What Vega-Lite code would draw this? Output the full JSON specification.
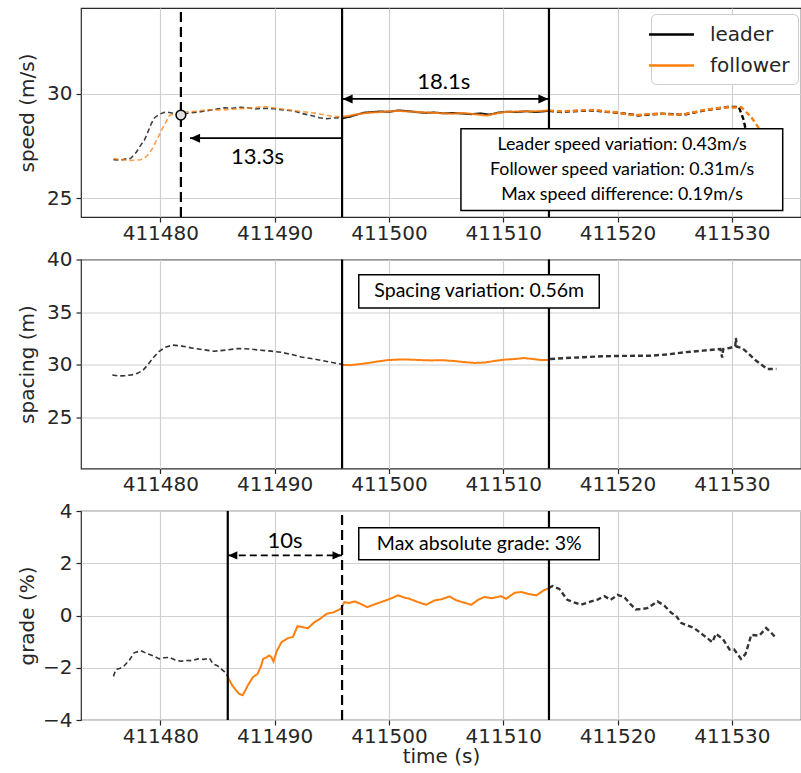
{
  "$schema": "https://vega.github.io/schema/vega-lite/v6.json",
  "padding": {"left": 16, "top": 6, "right": 0, "bottom": 4},
  "config": {
    "font": "DejaVu Sans",
    "view": {"stroke": "#2b2b2b", "strokeWidth": 1.2},
    "axis": {
      "labelFont": "DejaVu Sans", "labelFontSize": 20, "labelColor": "#262626",
      "titleFont": "DejaVu Sans", "titleFontSize": 20, "titleFontWeight": "normal", "titleColor": "#262626",
      "domain": false, "tickColor": "#262626", "tickSize": 5, "tickWidth": 1.2,
      "gridColor": "#d0d0d0", "gridWidth": 1.2, "grid": true
    },
    "axisX": {"labelPadding": 1, "labelFlush": false, "labelOverlap": false},
    "axisY": {"labelPadding": 4, "titleX": -54, "titleBaseline": "middle"}
  },
  "spacing": 42.5,
  "bounds": "flush",
  "resolve": {"legend": {"color": "independent"}},
  "datasets": {
    "speed": [
      {"t": 411475.9, "v": 26.84, "who": "leader", "seg": "before"},
      {"t": 411476.5, "v": 26.82, "who": "leader", "seg": "before"},
      {"t": 411477.0, "v": 26.88, "who": "leader", "seg": "before"},
      {"t": 411477.4, "v": 26.9, "who": "leader", "seg": "before"},
      {"t": 411477.9, "v": 27.2, "who": "leader", "seg": "before"},
      {"t": 411478.3, "v": 27.55, "who": "leader", "seg": "before"},
      {"t": 411478.6, "v": 27.77, "who": "leader", "seg": "before"},
      {"t": 411478.9, "v": 28.15, "who": "leader", "seg": "before"},
      {"t": 411479.2, "v": 28.56, "who": "leader", "seg": "before"},
      {"t": 411479.5, "v": 28.85, "who": "leader", "seg": "before"},
      {"t": 411479.9, "v": 29.01, "who": "leader", "seg": "before"},
      {"t": 411480.3, "v": 29.1, "who": "leader", "seg": "before"},
      {"t": 411480.6, "v": 29.12, "who": "leader", "seg": "before"},
      {"t": 411481.0, "v": 29.08, "who": "leader", "seg": "before"},
      {"t": 411481.5, "v": 29.0, "who": "leader", "seg": "before"},
      {"t": 411482.0, "v": 29.02, "who": "leader", "seg": "before"},
      {"t": 411482.5, "v": 29.08, "who": "leader", "seg": "before"},
      {"t": 411483.3, "v": 29.12, "who": "leader", "seg": "before"},
      {"t": 411484.0, "v": 29.18, "who": "leader", "seg": "before"},
      {"t": 411484.8, "v": 29.25, "who": "leader", "seg": "before"},
      {"t": 411485.6, "v": 29.33, "who": "leader", "seg": "before"},
      {"t": 411486.3, "v": 29.3, "who": "leader", "seg": "before"},
      {"t": 411487.0, "v": 29.35, "who": "leader", "seg": "before"},
      {"t": 411487.6, "v": 29.33, "who": "leader", "seg": "before"},
      {"t": 411488.3, "v": 29.27, "who": "leader", "seg": "before"},
      {"t": 411489.0, "v": 29.3, "who": "leader", "seg": "before"},
      {"t": 411490.0, "v": 29.28, "who": "leader", "seg": "before"},
      {"t": 411490.8, "v": 29.22, "who": "leader", "seg": "before"},
      {"t": 411491.7, "v": 29.17, "who": "leader", "seg": "before"},
      {"t": 411492.4, "v": 29.05, "who": "leader", "seg": "before"},
      {"t": 411493.2, "v": 28.96, "who": "leader", "seg": "before"},
      {"t": 411493.9, "v": 28.85, "who": "leader", "seg": "before"},
      {"t": 411494.6, "v": 28.8, "who": "leader", "seg": "before"},
      {"t": 411495.2, "v": 28.84, "who": "leader", "seg": "before"},
      {"t": 411495.9, "v": 28.86, "who": "leader", "seg": "before"},
      {"t": 411495.9, "v": 28.82, "who": "leader", "seg": "window"},
      {"t": 411496.6, "v": 28.9, "who": "leader", "seg": "window"},
      {"t": 411497.2, "v": 29.0, "who": "leader", "seg": "window"},
      {"t": 411497.8, "v": 29.09, "who": "leader", "seg": "window"},
      {"t": 411498.5, "v": 29.12, "who": "leader", "seg": "window"},
      {"t": 411499.2, "v": 29.15, "who": "leader", "seg": "window"},
      {"t": 411500.0, "v": 29.13, "who": "leader", "seg": "window"},
      {"t": 411500.8, "v": 29.2, "who": "leader", "seg": "window"},
      {"t": 411501.6, "v": 29.17, "who": "leader", "seg": "window"},
      {"t": 411502.4, "v": 29.12, "who": "leader", "seg": "window"},
      {"t": 411503.2, "v": 29.08, "who": "leader", "seg": "window"},
      {"t": 411504.0, "v": 29.1, "who": "leader", "seg": "window"},
      {"t": 411504.8, "v": 29.06, "who": "leader", "seg": "window"},
      {"t": 411505.6, "v": 29.08, "who": "leader", "seg": "window"},
      {"t": 411506.4, "v": 29.05, "who": "leader", "seg": "window"},
      {"t": 411507.2, "v": 29.02, "who": "leader", "seg": "window"},
      {"t": 411508.0, "v": 29.06, "who": "leader", "seg": "window"},
      {"t": 411508.8, "v": 29.0, "who": "leader", "seg": "window"},
      {"t": 411509.6, "v": 29.1, "who": "leader", "seg": "window"},
      {"t": 411510.4, "v": 29.14, "who": "leader", "seg": "window"},
      {"t": 411511.2, "v": 29.12, "who": "leader", "seg": "window"},
      {"t": 411512.0, "v": 29.16, "who": "leader", "seg": "window"},
      {"t": 411512.8, "v": 29.12, "who": "leader", "seg": "window"},
      {"t": 411513.5, "v": 29.15, "who": "leader", "seg": "window"},
      {"t": 411514.0, "v": 29.18, "who": "leader", "seg": "window"},
      {"t": 411514.0, "v": 29.18, "who": "leader", "seg": "after"},
      {"t": 411515.1, "v": 29.12, "who": "leader", "seg": "after"},
      {"t": 411516.0, "v": 29.16, "who": "leader", "seg": "after"},
      {"t": 411517.0, "v": 29.18, "who": "leader", "seg": "after"},
      {"t": 411518.0, "v": 29.2, "who": "leader", "seg": "after"},
      {"t": 411519.0, "v": 29.13, "who": "leader", "seg": "after"},
      {"t": 411520.0, "v": 29.09, "who": "leader", "seg": "after"},
      {"t": 411521.0, "v": 29.02, "who": "leader", "seg": "after"},
      {"t": 411521.8, "v": 28.96, "who": "leader", "seg": "after"},
      {"t": 411522.8, "v": 29.0, "who": "leader", "seg": "after"},
      {"t": 411523.8, "v": 29.04, "who": "leader", "seg": "after"},
      {"t": 411524.8, "v": 29.02, "who": "leader", "seg": "after"},
      {"t": 411525.8, "v": 29.0, "who": "leader", "seg": "after"},
      {"t": 411526.7, "v": 29.1, "who": "leader", "seg": "after"},
      {"t": 411527.6, "v": 29.2, "who": "leader", "seg": "after"},
      {"t": 411528.6, "v": 29.28, "who": "leader", "seg": "after"},
      {"t": 411529.6, "v": 29.36, "who": "leader", "seg": "after"},
      {"t": 411530.2, "v": 29.36, "who": "leader", "seg": "after"},
      {"t": 411530.6, "v": 29.38, "who": "leader", "seg": "after"},
      {"t": 411531.0, "v": 28.8, "who": "leader", "seg": "after"},
      {"t": 411531.2, "v": 28.32, "who": "leader", "seg": "after"},
      {"t": 411531.6, "v": 27.6, "who": "leader", "seg": "after"},
      {"t": 411532.2, "v": 27.1, "who": "leader", "seg": "after"},
      {"t": 411533.0, "v": 26.9, "who": "leader", "seg": "after"},
      {"t": 411533.9, "v": 26.85, "who": "leader", "seg": "after"},
      {"t": 411475.9, "v": 26.9, "who": "follower", "seg": "before"},
      {"t": 411476.6, "v": 26.85, "who": "follower", "seg": "before"},
      {"t": 411477.4, "v": 26.8, "who": "follower", "seg": "before"},
      {"t": 411478.3, "v": 26.84, "who": "follower", "seg": "before"},
      {"t": 411478.8, "v": 27.0, "who": "follower", "seg": "before"},
      {"t": 411479.3, "v": 27.37, "who": "follower", "seg": "before"},
      {"t": 411479.7, "v": 27.8, "who": "follower", "seg": "before"},
      {"t": 411480.1, "v": 28.25, "who": "follower", "seg": "before"},
      {"t": 411480.5, "v": 28.65, "who": "follower", "seg": "before"},
      {"t": 411480.8, "v": 28.96, "who": "follower", "seg": "before"},
      {"t": 411481.3, "v": 29.05, "who": "follower", "seg": "before"},
      {"t": 411481.8, "v": 29.12, "who": "follower", "seg": "before"},
      {"t": 411482.9, "v": 29.15, "who": "follower", "seg": "before"},
      {"t": 411484.1, "v": 29.23, "who": "follower", "seg": "before"},
      {"t": 411485.4, "v": 29.22, "who": "follower", "seg": "before"},
      {"t": 411486.8, "v": 29.28, "who": "follower", "seg": "before"},
      {"t": 411488.0, "v": 29.32, "who": "follower", "seg": "before"},
      {"t": 411489.1, "v": 29.39, "who": "follower", "seg": "before"},
      {"t": 411490.1, "v": 29.3, "who": "follower", "seg": "before"},
      {"t": 411491.1, "v": 29.23, "who": "follower", "seg": "before"},
      {"t": 411492.3, "v": 29.15, "who": "follower", "seg": "before"},
      {"t": 411493.5, "v": 29.07, "who": "follower", "seg": "before"},
      {"t": 411494.4, "v": 28.98, "who": "follower", "seg": "before"},
      {"t": 411495.2, "v": 28.91, "who": "follower", "seg": "before"},
      {"t": 411495.9, "v": 28.9, "who": "follower", "seg": "before"},
      {"t": 411495.9, "v": 28.9, "who": "follower", "seg": "window"},
      {"t": 411496.6, "v": 28.95, "who": "follower", "seg": "window"},
      {"t": 411497.2, "v": 29.02, "who": "follower", "seg": "window"},
      {"t": 411497.8, "v": 29.06, "who": "follower", "seg": "window"},
      {"t": 411498.5, "v": 29.1, "who": "follower", "seg": "window"},
      {"t": 411499.2, "v": 29.12, "who": "follower", "seg": "window"},
      {"t": 411500.0, "v": 29.15, "who": "follower", "seg": "window"},
      {"t": 411500.8, "v": 29.18, "who": "follower", "seg": "window"},
      {"t": 411501.6, "v": 29.15, "who": "follower", "seg": "window"},
      {"t": 411502.4, "v": 29.13, "who": "follower", "seg": "window"},
      {"t": 411503.2, "v": 29.1, "who": "follower", "seg": "window"},
      {"t": 411504.0, "v": 29.08, "who": "follower", "seg": "window"},
      {"t": 411504.8, "v": 29.06, "who": "follower", "seg": "window"},
      {"t": 411505.6, "v": 29.04, "who": "follower", "seg": "window"},
      {"t": 411506.4, "v": 29.08, "who": "follower", "seg": "window"},
      {"t": 411507.2, "v": 29.04, "who": "follower", "seg": "window"},
      {"t": 411508.0, "v": 28.98, "who": "follower", "seg": "window"},
      {"t": 411508.6, "v": 28.95, "who": "follower", "seg": "window"},
      {"t": 411509.3, "v": 29.05, "who": "follower", "seg": "window"},
      {"t": 411510.1, "v": 29.12, "who": "follower", "seg": "window"},
      {"t": 411510.9, "v": 29.14, "who": "follower", "seg": "window"},
      {"t": 411511.7, "v": 29.16, "who": "follower", "seg": "window"},
      {"t": 411512.4, "v": 29.15, "who": "follower", "seg": "window"},
      {"t": 411513.2, "v": 29.17, "who": "follower", "seg": "window"},
      {"t": 411514.0, "v": 29.2, "who": "follower", "seg": "window"},
      {"t": 411514.0, "v": 29.2, "who": "follower", "seg": "after"},
      {"t": 411515.0, "v": 29.15, "who": "follower", "seg": "after"},
      {"t": 411516.0, "v": 29.18, "who": "follower", "seg": "after"},
      {"t": 411517.0, "v": 29.2, "who": "follower", "seg": "after"},
      {"t": 411518.0, "v": 29.22, "who": "follower", "seg": "after"},
      {"t": 411519.0, "v": 29.15, "who": "follower", "seg": "after"},
      {"t": 411520.0, "v": 29.1, "who": "follower", "seg": "after"},
      {"t": 411521.0, "v": 29.0, "who": "follower", "seg": "after"},
      {"t": 411521.8, "v": 28.98, "who": "follower", "seg": "after"},
      {"t": 411522.8, "v": 29.02, "who": "follower", "seg": "after"},
      {"t": 411523.8, "v": 29.05, "who": "follower", "seg": "after"},
      {"t": 411524.8, "v": 29.0, "who": "follower", "seg": "after"},
      {"t": 411525.8, "v": 29.02, "who": "follower", "seg": "after"},
      {"t": 411526.7, "v": 29.12, "who": "follower", "seg": "after"},
      {"t": 411527.6, "v": 29.22, "who": "follower", "seg": "after"},
      {"t": 411528.6, "v": 29.3, "who": "follower", "seg": "after"},
      {"t": 411529.6, "v": 29.35, "who": "follower", "seg": "after"},
      {"t": 411530.3, "v": 29.34, "who": "follower", "seg": "after"},
      {"t": 411530.8, "v": 29.36, "who": "follower", "seg": "after"},
      {"t": 411531.2, "v": 29.15, "who": "follower", "seg": "after"},
      {"t": 411531.7, "v": 28.88, "who": "follower", "seg": "after"},
      {"t": 411532.3, "v": 28.4, "who": "follower", "seg": "after"},
      {"t": 411533.0, "v": 27.8, "who": "follower", "seg": "after"},
      {"t": 411533.9, "v": 27.4, "who": "follower", "seg": "after"}
    ],
    "spacing": [
      {"t": 411475.8, "v": 29.03, "seg": "before"},
      {"t": 411476.4, "v": 28.95, "seg": "before"},
      {"t": 411476.9, "v": 28.97, "seg": "before"},
      {"t": 411477.5, "v": 29.05, "seg": "before"},
      {"t": 411478.0, "v": 29.19, "seg": "before"},
      {"t": 411478.5, "v": 29.5, "seg": "before"},
      {"t": 411478.9, "v": 30.0, "seg": "before"},
      {"t": 411479.4, "v": 30.7, "seg": "before"},
      {"t": 411479.9, "v": 31.29, "seg": "before"},
      {"t": 411480.5, "v": 31.7, "seg": "before"},
      {"t": 411481.1, "v": 31.87, "seg": "before"},
      {"t": 411481.9, "v": 31.78, "seg": "before"},
      {"t": 411482.7, "v": 31.61, "seg": "before"},
      {"t": 411483.7, "v": 31.45, "seg": "before"},
      {"t": 411484.7, "v": 31.29, "seg": "before"},
      {"t": 411485.7, "v": 31.4, "seg": "before"},
      {"t": 411486.8, "v": 31.55, "seg": "before"},
      {"t": 411487.8, "v": 31.5, "seg": "before"},
      {"t": 411488.8, "v": 31.39, "seg": "before"},
      {"t": 411489.7, "v": 31.3, "seg": "before"},
      {"t": 411490.6, "v": 31.19, "seg": "before"},
      {"t": 411491.5, "v": 30.98, "seg": "before"},
      {"t": 411492.3, "v": 30.75, "seg": "before"},
      {"t": 411493.2, "v": 30.6, "seg": "before"},
      {"t": 411494.1, "v": 30.42, "seg": "before"},
      {"t": 411494.9, "v": 30.25, "seg": "before"},
      {"t": 411495.9, "v": 30.05, "seg": "before"},
      {"t": 411495.9, "v": 30.0, "seg": "window"},
      {"t": 411496.6, "v": 29.97, "seg": "window"},
      {"t": 411497.3, "v": 30.05, "seg": "window"},
      {"t": 411498.1, "v": 30.16, "seg": "window"},
      {"t": 411499.0, "v": 30.32, "seg": "window"},
      {"t": 411499.9, "v": 30.45, "seg": "window"},
      {"t": 411500.8, "v": 30.5, "seg": "window"},
      {"t": 411501.8, "v": 30.5, "seg": "window"},
      {"t": 411502.8, "v": 30.45, "seg": "window"},
      {"t": 411503.7, "v": 30.42, "seg": "window"},
      {"t": 411504.7, "v": 30.44, "seg": "window"},
      {"t": 411505.7, "v": 30.36, "seg": "window"},
      {"t": 411506.7, "v": 30.25, "seg": "window"},
      {"t": 411507.5, "v": 30.18, "seg": "window"},
      {"t": 411508.4, "v": 30.22, "seg": "window"},
      {"t": 411509.3, "v": 30.38, "seg": "window"},
      {"t": 411510.2, "v": 30.5, "seg": "window"},
      {"t": 411511.0, "v": 30.55, "seg": "window"},
      {"t": 411511.8, "v": 30.65, "seg": "window"},
      {"t": 411512.6, "v": 30.55, "seg": "window"},
      {"t": 411513.3, "v": 30.46, "seg": "window"},
      {"t": 411514.0, "v": 30.45, "seg": "window"},
      {"t": 411514.1, "v": 30.55, "seg": "after"},
      {"t": 411515.5, "v": 30.65, "seg": "after"},
      {"t": 411517.0, "v": 30.72, "seg": "after"},
      {"t": 411518.6, "v": 30.81, "seg": "after"},
      {"t": 411520.5, "v": 30.85, "seg": "after"},
      {"t": 411522.9, "v": 30.87, "seg": "after"},
      {"t": 411524.5, "v": 31.0, "seg": "after"},
      {"t": 411525.8, "v": 31.19, "seg": "after"},
      {"t": 411527.5, "v": 31.35, "seg": "after"},
      {"t": 411529.0, "v": 31.5, "seg": "after"},
      {"t": 411529.15, "v": 30.7, "seg": "after"},
      {"t": 411529.25, "v": 31.5, "seg": "after"},
      {"t": 411529.8, "v": 31.6, "seg": "after"},
      {"t": 411530.3, "v": 31.75, "seg": "after"},
      {"t": 411530.35, "v": 32.55, "seg": "after"},
      {"t": 411530.45, "v": 31.72, "seg": "after"},
      {"t": 411530.9, "v": 31.6, "seg": "after"},
      {"t": 411531.4, "v": 31.13, "seg": "after"},
      {"t": 411532.0, "v": 30.5, "seg": "after"},
      {"t": 411532.6, "v": 30.0, "seg": "after"},
      {"t": 411533.1, "v": 29.61, "seg": "after"},
      {"t": 411533.9, "v": 29.6, "seg": "after"}
    ],
    "grade": [
      {"t": 411475.9, "v": -2.33, "seg": "before"},
      {"t": 411476.1, "v": -2.07, "seg": "before"},
      {"t": 411476.5, "v": -2.02, "seg": "before"},
      {"t": 411476.85, "v": -1.92, "seg": "before"},
      {"t": 411477.3, "v": -1.7, "seg": "before"},
      {"t": 411477.7, "v": -1.43, "seg": "before"},
      {"t": 411478.3, "v": -1.35, "seg": "before"},
      {"t": 411478.9, "v": -1.47, "seg": "before"},
      {"t": 411479.4, "v": -1.55, "seg": "before"},
      {"t": 411479.9, "v": -1.66, "seg": "before"},
      {"t": 411480.3, "v": -1.62, "seg": "before"},
      {"t": 411480.8, "v": -1.6, "seg": "before"},
      {"t": 411481.3, "v": -1.7, "seg": "before"},
      {"t": 411481.8, "v": -1.75, "seg": "before"},
      {"t": 411482.3, "v": -1.72, "seg": "before"},
      {"t": 411482.8, "v": -1.73, "seg": "before"},
      {"t": 411483.3, "v": -1.66, "seg": "before"},
      {"t": 411483.8, "v": -1.68, "seg": "before"},
      {"t": 411484.3, "v": -1.63, "seg": "before"},
      {"t": 411484.6, "v": -1.85, "seg": "before"},
      {"t": 411485.0, "v": -1.92, "seg": "before"},
      {"t": 411485.3, "v": -2.04, "seg": "before"},
      {"t": 411485.6, "v": -2.15, "seg": "before"},
      {"t": 411485.9, "v": -2.33, "seg": "before"},
      {"t": 411485.9, "v": -2.36, "seg": "window"},
      {"t": 411486.3, "v": -2.68, "seg": "window"},
      {"t": 411486.6, "v": -2.85, "seg": "window"},
      {"t": 411486.9, "v": -3.0, "seg": "window"},
      {"t": 411487.2, "v": -3.05, "seg": "window"},
      {"t": 411487.45, "v": -2.85, "seg": "window"},
      {"t": 411487.65, "v": -2.68, "seg": "window"},
      {"t": 411487.9, "v": -2.5, "seg": "window"},
      {"t": 411488.1, "v": -2.36, "seg": "window"},
      {"t": 411488.5, "v": -2.24, "seg": "window"},
      {"t": 411488.8, "v": -1.95, "seg": "window"},
      {"t": 411489.0, "v": -1.66, "seg": "window"},
      {"t": 411489.3, "v": -1.6, "seg": "window"},
      {"t": 411489.5, "v": -1.53, "seg": "window"},
      {"t": 411489.7, "v": -1.58, "seg": "window"},
      {"t": 411489.9, "v": -1.76, "seg": "window"},
      {"t": 411490.2, "v": -1.35, "seg": "window"},
      {"t": 411490.6, "v": -1.02, "seg": "window"},
      {"t": 411491.15, "v": -0.87, "seg": "window"},
      {"t": 411491.6, "v": -0.82, "seg": "window"},
      {"t": 411492.0, "v": -0.41, "seg": "window"},
      {"t": 411492.5, "v": -0.45, "seg": "window"},
      {"t": 411492.9, "v": -0.49, "seg": "window"},
      {"t": 411493.5, "v": -0.25, "seg": "window"},
      {"t": 411494.0, "v": -0.12, "seg": "window"},
      {"t": 411494.35, "v": 0.0, "seg": "window"},
      {"t": 411494.6, "v": 0.07, "seg": "window"},
      {"t": 411495.2, "v": 0.13, "seg": "window"},
      {"t": 411495.8, "v": 0.26, "seg": "window"},
      {"t": 411496.1, "v": 0.51, "seg": "window"},
      {"t": 411496.5, "v": 0.48, "seg": "window"},
      {"t": 411497.0, "v": 0.54, "seg": "window"},
      {"t": 411497.5, "v": 0.45, "seg": "window"},
      {"t": 411498.1, "v": 0.32, "seg": "window"},
      {"t": 411498.7, "v": 0.42, "seg": "window"},
      {"t": 411499.3, "v": 0.51, "seg": "window"},
      {"t": 411500.0, "v": 0.62, "seg": "window"},
      {"t": 411500.8, "v": 0.77, "seg": "window"},
      {"t": 411501.4, "v": 0.68, "seg": "window"},
      {"t": 411501.8, "v": 0.64, "seg": "window"},
      {"t": 411502.5, "v": 0.52, "seg": "window"},
      {"t": 411503.25, "v": 0.41, "seg": "window"},
      {"t": 411504.0, "v": 0.58, "seg": "window"},
      {"t": 411504.6, "v": 0.62, "seg": "window"},
      {"t": 411505.3, "v": 0.73, "seg": "window"},
      {"t": 411505.9, "v": 0.58, "seg": "window"},
      {"t": 411506.6, "v": 0.49, "seg": "window"},
      {"t": 411507.2, "v": 0.41, "seg": "window"},
      {"t": 411507.8, "v": 0.6, "seg": "window"},
      {"t": 411508.35, "v": 0.71, "seg": "window"},
      {"t": 411509.0, "v": 0.66, "seg": "window"},
      {"t": 411509.8, "v": 0.74, "seg": "window"},
      {"t": 411510.25, "v": 0.64, "seg": "window"},
      {"t": 411511.0, "v": 0.87, "seg": "window"},
      {"t": 411511.6, "v": 0.9, "seg": "window"},
      {"t": 411512.15, "v": 0.83, "seg": "window"},
      {"t": 411512.9, "v": 0.77, "seg": "window"},
      {"t": 411513.5, "v": 0.95, "seg": "window"},
      {"t": 411514.0, "v": 1.05, "seg": "window"},
      {"t": 411514.0, "v": 1.05, "seg": "after"},
      {"t": 411514.3, "v": 1.13, "seg": "after"},
      {"t": 411514.9, "v": 1.02, "seg": "after"},
      {"t": 411515.6, "v": 0.6, "seg": "after"},
      {"t": 411516.2, "v": 0.5, "seg": "after"},
      {"t": 411516.8, "v": 0.41, "seg": "after"},
      {"t": 411517.7, "v": 0.54, "seg": "after"},
      {"t": 411518.3, "v": 0.62, "seg": "after"},
      {"t": 411518.85, "v": 0.74, "seg": "after"},
      {"t": 411519.4, "v": 0.6, "seg": "after"},
      {"t": 411520.0, "v": 0.79, "seg": "after"},
      {"t": 411520.6, "v": 0.7, "seg": "after"},
      {"t": 411521.1, "v": 0.45, "seg": "after"},
      {"t": 411521.6, "v": 0.23, "seg": "after"},
      {"t": 411522.1, "v": 0.25, "seg": "after"},
      {"t": 411522.6, "v": 0.28, "seg": "after"},
      {"t": 411523.5, "v": 0.54, "seg": "after"},
      {"t": 411524.1, "v": 0.38, "seg": "after"},
      {"t": 411524.7, "v": 0.1, "seg": "after"},
      {"t": 411525.1, "v": 0.0, "seg": "after"},
      {"t": 411525.55, "v": -0.28, "seg": "after"},
      {"t": 411526.1, "v": -0.38, "seg": "after"},
      {"t": 411526.7, "v": -0.48, "seg": "after"},
      {"t": 411527.5, "v": -0.75, "seg": "after"},
      {"t": 411528.3, "v": -1.02, "seg": "after"},
      {"t": 411528.6, "v": -0.7, "seg": "after"},
      {"t": 411529.2, "v": -0.89, "seg": "after"},
      {"t": 411529.8, "v": -1.3, "seg": "after"},
      {"t": 411530.2, "v": -1.3, "seg": "after"},
      {"t": 411530.8, "v": -1.66, "seg": "after"},
      {"t": 411531.2, "v": -1.47, "seg": "after"},
      {"t": 411531.7, "v": -0.74, "seg": "after"},
      {"t": 411532.4, "v": -0.77, "seg": "after"},
      {"t": 411533.0, "v": -0.48, "seg": "after"},
      {"t": 411533.4, "v": -0.64, "seg": "after"},
      {"t": 411533.9, "v": -0.87, "seg": "after"}
    ]
  },
  "vconcat": [
    {
      "width": 720,
      "height": 209,
      "encoding": {
        "x": {"field": "t", "type": "quantitative", "scale": {"domain": [411473.06, 411536.05], "nice": false, "zero": false},
              "axis": {"values": [411480, 411490, 411500, 411510, 411520, 411530], "format": "d", "title": null}},
        "y": {"field": "v", "type": "quantitative", "scale": {"domain": [24.1, 34.1], "nice": false, "zero": false},
              "axis": {"values": [25, 30], "title": "speed (m/s)"}}
      },
      "layer": [
        {
          "data": {"name": "speed"},
          "mark": {"type": "line"},
          "encoding": {
            "color": {"field": "who", "type": "nominal", "scale": {"domain": ["leader", "follower"], "range": ["#000000", "#ff7f0e"]},
                      "legend": {"title": null, "orient": "none", "legendX": 570, "legendY": 6, "direction": "vertical",
                                 "symbolType": "M-2,0L2,0", "symbolSize": 506, "symbolStrokeWidth": 2.5, "symbolDash": [1, 0], "symbolOpacity": 1,
                                 "labelFont": "DejaVu Sans", "labelFontSize": 20, "labelColor": "#262626", "labelOffset": 26,
                                 "fillColor": "white", "strokeColor": "#cccccc", "cornerRadius": 5, "padding": 8, "rowPadding": 8}},
            "strokeDash": {"field": "seg", "type": "nominal", "scale": {"domain": ["before", "window", "after"], "range": [[5, 3], [1, 0], [5, 3]]}, "legend": null},
            "strokeWidth": {"field": "seg", "type": "nominal", "scale": {"domain": ["before", "window", "after"], "range": [1.6, 2.4, 1.6]}, "legend": null},
            "opacity": {"field": "seg", "type": "nominal", "scale": {"domain": ["before", "window", "after"], "range": [0.75, 1, 0.75]}, "legend": null}
          }
        },
        {
          "data": {"values": [{"t": 411495.9, "v": 24.1, "v2": 34.1}, {"t": 411514.0, "v": 24.1, "v2": 34.1}]},
          "mark": {"type": "rule", "color": "#000000", "strokeWidth": 2.2},
          "encoding": {"y2": {"field": "v2"}}
        },
        {
          "data": {"values": [{"t": 411481.8, "v": 24.1, "v2": 34.1}]},
          "mark": {"type": "rule", "color": "#000000", "strokeWidth": 2.2, "strokeDash": [10, 5]},
          "encoding": {"y2": {"field": "v2"}}
        },
        {
          "data": {"values": [{"t": 411481.8, "v": 28.98}]},
          "mark": {"type": "point", "shape": "circle", "filled": true, "fill": "#e0e0e0", "stroke": "#000000", "strokeWidth": 1.5, "size": 95, "opacity": 1},
          "encoding": {}
        },
        {
          "data": {"values": [{"t": 411495.9, "t2": 411514.0, "v": 29.75}, {"t": 411482.6, "t2": 411495.9, "v": 27.87}]},
          "mark": {"type": "rule", "color": "#000000", "strokeWidth": 1.8},
          "encoding": {"x2": {"field": "t2"}}
        },
        {
          "data": {"values": [{"t": 411495.95, "v": 29.75, "dir": "left"}, {"t": 411513.95, "v": 29.75, "dir": "right"}, {"t": 411482.6, "v": 27.87, "dir": "left"}]},
          "mark": {"type": "point", "filled": true, "color": "#000000", "opacity": 1, "size": 400},
          "encoding": {
            "shape": {"field": "dir", "type": "nominal", "scale": {"domain": ["left", "right"], "range": ["M0,0L1,-0.45L1,0.45Z", "M0,0L-1,-0.45L-1,0.45Z"]}, "legend": null}
          }
        },
        {
          "data": {"values": [{"t": 411504.8, "v": 30.56, "label": "18.1s"}, {"t": 411488.5, "v": 26.97, "label": "13.3s"}]},
          "mark": {"type": "text", "font": "Lato", "fontSize": 22, "color": "#000000", "align": "center", "baseline": "middle"},
          "encoding": {"text": {"field": "label"}}
        },
        {
          "data": {"values": [{"t": 411506.3, "t2": 411534.45, "v": 28.32, "v2": 24.41}]},
          "mark": {"type": "rect", "fill": "#ffffff", "stroke": "#000000", "strokeWidth": 1.5},
          "encoding": {"x2": {"field": "t2"}, "y2": {"field": "v2"}}
        },
        {
          "data": {"values": [
            {"t": 411520.4, "v": 27.54, "label": "Leader speed variation: 0.43m/s"},
            {"t": 411520.4, "v": 26.34, "label": "Follower speed variation: 0.31m/s"},
            {"t": 411520.4, "v": 25.15, "label": "Max speed difference: 0.19m/s"}
          ]},
          "mark": {"type": "text", "font": "Lato", "fontSize": 17.8, "color": "#000000", "align": "center", "baseline": "middle"},
          "encoding": {"text": {"field": "label"}}
        }
      ]
    },
    {
      "width": 720,
      "height": 209,
      "encoding": {
        "x": {"field": "t", "type": "quantitative", "scale": {"domain": [411473.06, 411536.05], "nice": false, "zero": false},
              "axis": {"values": [411480, 411490, 411500, 411510, 411520, 411530], "format": "d", "title": null}},
        "y": {"field": "v", "type": "quantitative", "scale": {"domain": [20.16, 40], "nice": false, "zero": false},
              "axis": {"values": [25, 30, 35, 40], "title": "spacing (m)"}}
      },
      "layer": [
        {
          "data": {"name": "spacing"},
          "mark": {"type": "line"},
          "encoding": {
            "stroke": {"field": "seg", "type": "nominal", "scale": {"domain": ["before", "window", "after"], "range": ["#333333", "#ff7f0e", "#333333"]}, "legend": null},
            "strokeDash": {"field": "seg", "type": "nominal", "scale": {"domain": ["before", "window", "after"], "range": [[5, 3], [1, 0], [5, 3]]}, "legend": null},
            "strokeWidth": {"field": "seg", "type": "nominal", "scale": {"domain": ["before", "window", "after"], "range": [1.6, 2.6, 1.6]}, "legend": null}
          }
        },
        {
          "data": {"values": [{"t": 411495.9, "v": 20.16, "v2": 40}, {"t": 411514.0, "v": 20.16, "v2": 40}]},
          "mark": {"type": "rule", "color": "#000000", "strokeWidth": 2.2},
          "encoding": {"y2": {"field": "v2"}}
        },
        {
          "data": {"values": [{"t": 411497.36, "t2": 411518.4, "v": 38.55, "v2": 35.39}]},
          "mark": {"type": "rect", "fill": "#ffffff", "stroke": "#000000", "strokeWidth": 1.5},
          "encoding": {"x2": {"field": "t2"}, "y2": {"field": "v2"}}
        },
        {
          "data": {"values": [{"t": 411507.9, "v": 36.97, "label": "Spacing variation: 0.56m"}]},
          "mark": {"type": "text", "font": "Lato", "fontSize": 19.5, "color": "#000000", "align": "center", "baseline": "middle"},
          "encoding": {"text": {"field": "label"}}
        }
      ]
    },
    {
      "width": 720,
      "height": 209,
      "encoding": {
        "x": {"field": "t", "type": "quantitative", "scale": {"domain": [411473.06, 411536.05], "nice": false, "zero": false},
              "axis": {"values": [411480, 411490, 411500, 411510, 411520, 411530], "format": "d", "title": "time (s)", "titlePadding": 0}},
        "y": {"field": "v", "type": "quantitative", "scale": {"domain": [-4, 4], "nice": false, "zero": false},
              "axis": {"values": [-4, -2, 0, 2, 4], "title": "grade (%)"}}
      },
      "layer": [
        {
          "data": {"name": "grade"},
          "mark": {"type": "line"},
          "encoding": {
            "stroke": {"field": "seg", "type": "nominal", "scale": {"domain": ["before", "window", "after"], "range": ["#333333", "#ff7f0e", "#333333"]}, "legend": null},
            "strokeDash": {"field": "seg", "type": "nominal", "scale": {"domain": ["before", "window", "after"], "range": [[5, 3], [1, 0], [5, 3]]}, "legend": null},
            "strokeWidth": {"field": "seg", "type": "nominal", "scale": {"domain": ["before", "window", "after"], "range": [1.6, 2.6, 1.6]}, "legend": null}
          }
        },
        {
          "data": {"values": [{"t": 411485.9, "v": -4, "v2": 4}, {"t": 411514.0, "v": -4, "v2": 4}]},
          "mark": {"type": "rule", "color": "#000000", "strokeWidth": 2.2},
          "encoding": {"y2": {"field": "v2"}}
        },
        {
          "data": {"values": [{"t": 411495.9, "v": -4, "v2": 4}]},
          "mark": {"type": "rule", "color": "#000000", "strokeWidth": 2.2, "strokeDash": [10, 5]},
          "encoding": {"y2": {"field": "v2"}}
        },
        {
          "data": {"values": [{"t": 411485.9, "t2": 411495.9, "v": 2.3}]},
          "mark": {"type": "rule", "color": "#000000", "strokeWidth": 1.8, "strokeDash": [7, 4]},
          "encoding": {"x2": {"field": "t2"}}
        },
        {
          "data": {"values": [{"t": 411485.95, "v": 2.3, "dir": "left"}, {"t": 411495.85, "v": 2.3, "dir": "right"}]},
          "mark": {"type": "point", "filled": true, "color": "#000000", "opacity": 1, "size": 324},
          "encoding": {
            "shape": {"field": "dir", "type": "nominal", "scale": {"domain": ["left", "right"], "range": ["M0,0L1,-0.45L1,0.45Z", "M0,0L-1,-0.45L-1,0.45Z"]}, "legend": null}
          }
        },
        {
          "data": {"values": [{"t": 411490.9, "v": 2.84, "label": "10s"}]},
          "mark": {"type": "text", "font": "Lato", "fontSize": 22, "color": "#000000", "align": "center", "baseline": "middle"},
          "encoding": {"text": {"field": "label"}}
        },
        {
          "data": {"values": [{"t": 411497.36, "t2": 411518.4, "v": 3.36, "v2": 2.13}]},
          "mark": {"type": "rect", "fill": "#ffffff", "stroke": "#000000", "strokeWidth": 1.5},
          "encoding": {"x2": {"field": "t2"}, "y2": {"field": "v2"}}
        },
        {
          "data": {"values": [{"t": 411507.9, "v": 2.75, "label": "Max absolute grade: 3%"}]},
          "mark": {"type": "text", "font": "Lato", "fontSize": 19.5, "color": "#000000", "align": "center", "baseline": "middle"},
          "encoding": {"text": {"field": "label"}}
        }
      ]
    }
  ]
}
